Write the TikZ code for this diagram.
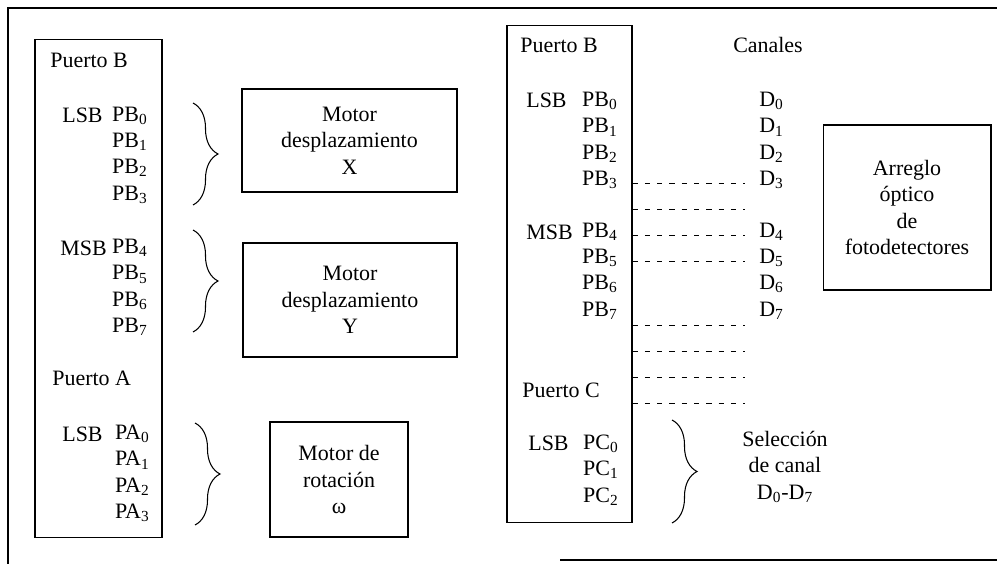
\documentclass[tikz,border=0pt]{standalone}
\usepackage{fontspec}
\setmainfont{Liberation Serif}
\usetikzlibrary{decorations.pathreplacing}

\begin{document}
\begin{tikzpicture}[
  x=0.02cm, y=-0.02cm, font=\fontsize{12.5}{15}\selectfont,
  every node/.style={align=center, inner sep=0pt},
  port/.style={draw, semithick},
  device/.style={draw, semithick},
  bits/.style={anchor=east, align=right},
  tag/.style={anchor=west},
  group/.style={decorate, decoration={brace, amplitude=0.5cm}, semithick},
  bus/.style={thin, dash pattern=on 3pt off 4pt}]
\useasboundingbox (0,0) rectangle (997,564);
\draw[line width=0.9pt] (8,564) -- (8,8) -- (997,8);
\draw[line width=0.9pt] (560,560) -- (997,560);
\node[port, minimum width=2.54cm, minimum height=9.98cm] (ctrlA) at (98.5,288.5) {};
\node[tag] (portB) at (50,60) {Puerto B};
\node[tag] (lsbB) at (62,115) {LSB};
\node[bits] (lowB) at (148,155)
  {PB\textsubscript{0}\\PB\textsubscript{1}\\PB\textsubscript{2}\\PB\textsubscript{3}};
\node[tag] (msbB) at (60,248) {MSB};
\node[bits] (highB) at (148,287.5)
  {PB\textsubscript{4}\\PB\textsubscript{5}\\PB\textsubscript{6}\\PB\textsubscript{7}};
\node[tag] (portA) at (52,378) {Puerto A};
\node[tag] (lsbA) at (62,434) {LSB};
\node[bits] (lowA) at (150,473.5)
  {PA\textsubscript{0}\\PA\textsubscript{1}\\PA\textsubscript{2}\\PA\textsubscript{3}};
\node[device, minimum width=4.3cm, minimum height=2.06cm] (motorX)
  at (349.5,140.5) {Motor\\desplazamiento\\X};
\node[device, minimum width=4.28cm, minimum height=2.28cm] (motorY)
  at (350,300) {Motor\\desplazamiento\\Y};
\node[device, minimum width=2.76cm, minimum height=2.3cm] (motorR)
  at (339,479.5) {Motor de\\rotación\\ω};
\draw[group] (193,103) -- (193,205);
\draw[group] (193,230) -- (193,332);
\draw[group] (195,423) -- (195,525);
\node[port, minimum width=2.5cm, minimum height=9.96cm] (ctrlB) at (569.5,274) {};
\node[tag] (portBB) at (520,45) {Puerto B};
\node (channels) at (768,45) {Canales};
\node[tag] (lsbBB) at (526,100) {LSB};
\node[bits] (lowBB) at (618,140.5)
  {PB\textsubscript{0}\\PB\textsubscript{1}\\PB\textsubscript{2}\\PB\textsubscript{3}};
\node[tag] (msbBB) at (526,232) {MSB};
\node[bits] (highBB) at (618,271)
  {PB\textsubscript{4}\\PB\textsubscript{5}\\PB\textsubscript{6}\\PB\textsubscript{7}};
\node[anchor=west, align=left] (lowD) at (759,140.5)
  {D\textsubscript{0}\\D\textsubscript{1}\\D\textsubscript{2}\\D\textsubscript{3}};
\node[anchor=west, align=left] (highD) at (759,271)
  {D\textsubscript{4}\\D\textsubscript{5}\\D\textsubscript{6}\\D\textsubscript{7}};
\node[tag] (portC) at (522,390) {Puerto C};
\node[tag] (lsbC) at (528,443) {LSB};
\node[bits] (lowC) at (619,470)
  {PC\textsubscript{0}\\PC\textsubscript{1}\\PC\textsubscript{2}};
\draw[group] (672,420) -- (672,523);
\node (select) at (785,467) {Selección\\de canal\\D\textsubscript{0}-D\textsubscript{7}};
\node[device, minimum width=3.36cm, minimum height=3.3cm] (optics)
  at (907,207.5) {Arreglo\\óptico\\de\\fotodetectores};
\draw[bus] (ctrlB.east |- 0,183) -- (745,183);
\draw[bus] (ctrlB.east |- 0,209) -- (745,209);
\draw[bus] (ctrlB.east |- 0,235) -- (745,235);
\draw[bus] (ctrlB.east |- 0,261) -- (745,261);
\draw[bus] (ctrlB.east |- 0,325) -- (745,325);
\draw[bus] (ctrlB.east |- 0,351) -- (745,351);
\draw[bus] (ctrlB.east |- 0,377) -- (745,377);
\draw[bus] (ctrlB.east |- 0,403) -- (745,403);
\end{tikzpicture}
\end{document}
